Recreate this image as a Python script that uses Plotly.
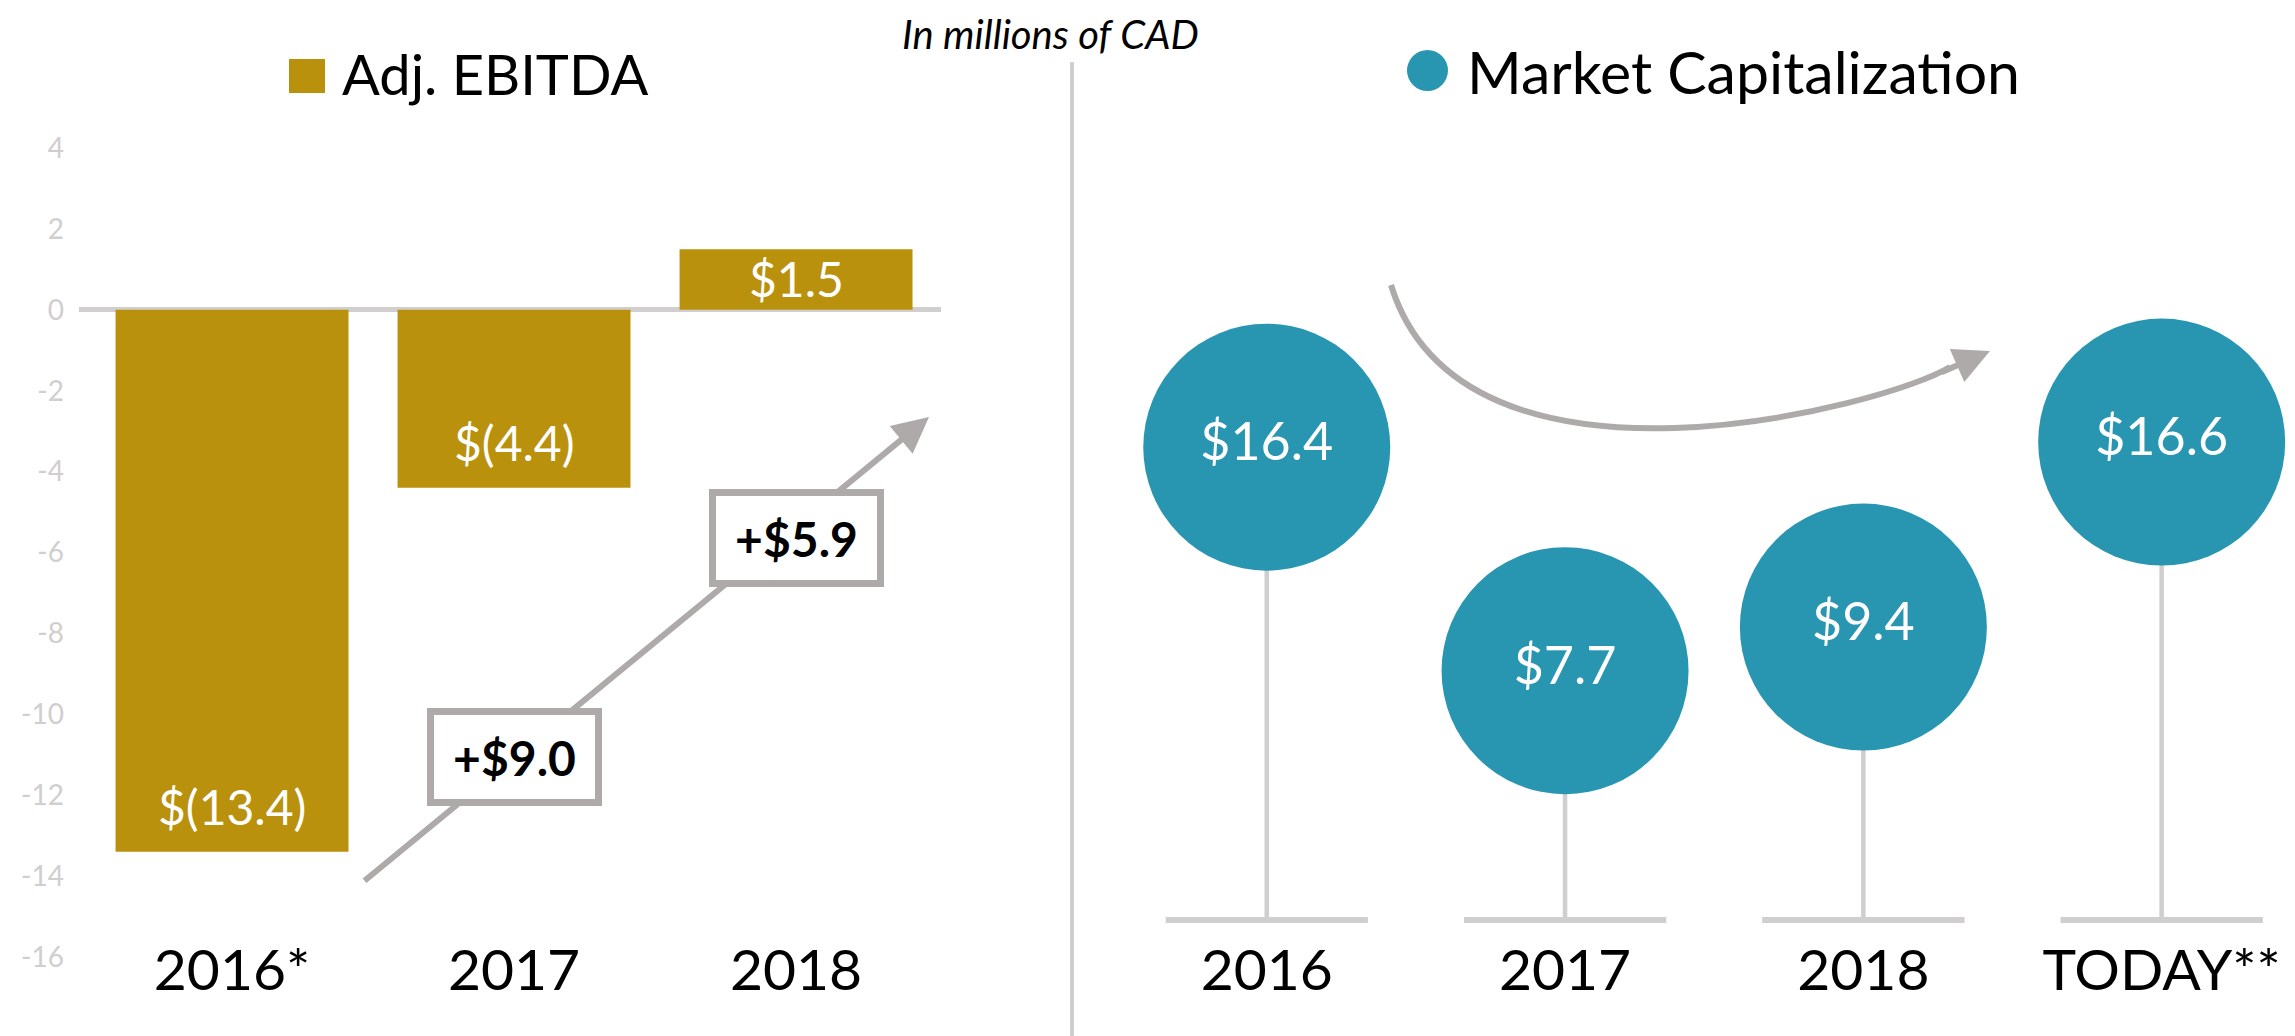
import plotly.graph_objects as go

# ---------------- data ----------------
ebitda_years = ["2016*", "2017", "2018"]
ebitda_values = [-13.4, -4.4, 1.5]
ebitda_labels = ["$(13.4)", "$(4.4)", "$1.5"]

ytick_vals = [4, 2, 0, -2, -4, -6, -8, -10, -12, -14, -16]
ytick_text = ["4", "2", "0", "-2", "-4", "-6", "-8", "-10", "-12", "-14", "-16"]

mcap_years = ["2016", "2017", "2018", "TODAY**"]
mcap_values = [16.4, 7.7, 9.4, 16.6]
mcap_labels = ["$16.4", "$7.7", "$9.4", "$16.6"]

# ---------------- styling helpers ----------------
W, H = 2295, 1036
OFF = 8  # page offset of the plot div inside the browser
GOLD = "#BA910C"
TEAL = "#2896B1"
LIGHT = "#D0CECE"
ARROW = "#AEAAAA"
FONT = "Lato, 'Open Sans', sans-serif"


def px(x):
    return (x - OFF) / W


def py(y):
    return 1 - (y - OFF) / H


fig = go.Figure()

ex = list(range(len(ebitda_years)))
# ---------------- left: Adj. EBITDA bars ----------------
fig.add_trace(go.Bar(
    x=ex, y=ebitda_values,
    marker=dict(color=GOLD, line=dict(width=0)),
    xaxis="x", yaxis="y", hoverinfo="skip",
))

# ---------------- right: market cap lollipops ----------------
BASE = -2
mx = list(range(len(mcap_years)))
# stems + baselines
fig.add_trace(go.Scatter(
    x=mx, y=[BASE] * len(mx), mode="markers",
    marker=dict(size=1, opacity=0),
    error_y=dict(type="data", symmetric=False,
                 array=[v - BASE for v in mcap_values], arrayminus=[0] * len(mx),
                 color=LIGHT, thickness=4.5, width=0),
    error_x=dict(type="data", array=[0.339] * len(mx),
                 color=LIGHT, thickness=6, width=0),
    xaxis="x2", yaxis="y2", hoverinfo="skip",
))
# circles
fig.add_trace(go.Scatter(
    x=mx, y=mcap_values, mode="markers+text",
    marker=dict(size=247, color=TEAL, line=dict(width=0), opacity=1),
    text=mcap_labels, textposition="middle center",
    textfont=dict(family=FONT, size=52, color="white"),
    xaxis="x2", yaxis="y2", hoverinfo="skip",
))

annotations = []

# bar value labels
for i, (v, lab) in enumerate(zip(ebitda_values, ebitda_labels)):
    annotations.append(dict(
        x=ex[i], y=v, xref="x", yref="y", text=lab, showarrow=False,
        yanchor="middle", yshift=(45 if v < 0 else -29),
        font=dict(family=FONT, size=48, color="white"),
    ))

# rising arrow across the bars
annotations.append(dict(
    x=px(929), y=py(417), xref="paper", yref="paper",
    ax=363 - 929, ay=882 - 417, axref="pixel", ayref="pixel",
    text="", showarrow=True, arrowhead=2, arrowsize=1.2, arrowwidth=6,
    arrowcolor=ARROW, standoff=0, startstandoff=0,
))

# change boxes
box_y = [757, 538]
for i in range(1, len(ebitda_values)):
    diff = ebitda_values[i] - ebitda_values[i - 1]
    annotations.append(dict(
        x=ex[i], y=py(box_y[i - 1]), xref="x", yref="paper",
        text=f"<b>+${diff:.1f}</b>", showarrow=False,
        font=dict(family=FONT, size=48, color="black"),
        bgcolor="white", bordercolor=ARROW, borderwidth=7, borderpad=0,
        width=161, height=84, xanchor="center", yanchor="middle",
    ))

# curved arrow head (right panel)
annotations.append(dict(
    x=px(1990), y=py(351), xref="paper", yref="paper",
    ax=1940 - 1990, ay=373 - 351, axref="pixel", ayref="pixel",
    text="", showarrow=True, arrowhead=2, arrowsize=1.2, arrowwidth=6,
    arrowcolor=ARROW, standoff=0, startstandoff=0,
))

# titles / legends
annotations += [
    dict(x=px(1050), y=1, xref="paper", yref="paper",
         text="<i>In millions of CAD</i>", showarrow=False,
         font=dict(family=FONT, size=40, color="black"),
         xanchor="center", yanchor="top"),
    dict(x=px(340), y=py(74), xref="paper", yref="paper",
         text="Adj. EBITDA", showarrow=False,
         font=dict(family=FONT, size=56, color="black"),
         xanchor="left", yanchor="middle"),
    dict(x=px(1465), y=py(72), xref="paper", yref="paper",
         text="Market Capitalization", showarrow=False,
         font=dict(family=FONT, size=59, color="black"),
         xanchor="left", yanchor="middle"),
]

# curved arrow path (decorative cubic bezier, pixel positions -> paper)
c0, c1, c2, c3 = (1391, 285), (1463, 519), (1889, 405), (1950, 367)
path = "M {},{} C {},{} {},{} {},{}".format(
    px(c0[0]), py(c0[1]), px(c1[0]), py(c1[1]),
    px(c2[0]), py(c2[1]), px(c3[0]), py(c3[1]))

shapes = [
    # divider
    dict(type="line", xref="paper", yref="paper",
         x0=px(1072), x1=px(1072), y0=py(1036), y1=py(62),
         line=dict(color=LIGHT, width=4)),
    # legend swatches
    dict(type="rect", xref="paper", yref="paper",
         x0=px(289), x1=px(325), y0=py(93), y1=py(59),
         fillcolor=GOLD, line=dict(width=0)),
    dict(type="circle", xref="paper", yref="paper",
         x0=px(1407), x1=px(1448), y0=py(91), y1=py(50),
         fillcolor=TEAL, line=dict(width=0)),
    # curved arrow
    dict(type="path", xref="paper", yref="paper", path=path,
         line=dict(color=ARROW, width=6)),
]

AXIS_POS = py(932)


# right panel vertical scale: 25.69 px per unit, value 11.167 at y=581.67 px
def v_at(pix):
    return 11.167 - (pix - 581.67) / 25.69


fig.update_layout(
    width=W, height=H, autosize=False,
    margin=dict(l=0, r=0, t=0, b=0, pad=0, autoexpand=False),
    paper_bgcolor="white", plot_bgcolor="rgba(0,0,0,0)",
    showlegend=False, bargap=0.174,
    font=dict(family=FONT),
    xaxis=dict(domain=[px(79), px(941)], range=[-0.5426, 2.514],
               anchor="free", position=AXIS_POS, automargin=False,
               tickvals=ex, ticktext=ebitda_years,
               showgrid=False, zeroline=False, showline=False, ticks="",
               tickfont=dict(family=FONT, size=57, color="black")),
    yaxis=dict(domain=[py(957), py(148)], range=[-16, 4], anchor="x",
               automargin=False,
               tickvals=ytick_vals, ticktext=ytick_text,
               showgrid=False, showline=False, ticks="",
               zeroline=True, zerolinecolor=LIGHT, zerolinewidth=5,
               ticklabelstandoff=14,
               tickfont=dict(family=FONT, size=28, color=LIGHT)),
    xaxis2=dict(domain=[px(1100), px(2295)], range=[-0.559, 3.447],
                anchor="free", position=AXIS_POS, automargin=False,
                tickvals=mx, ticktext=mcap_years,
                showgrid=False, zeroline=False, showline=False, ticks="",
                tickfont=dict(family=FONT, size=57, color="black")),
    yaxis2=dict(domain=[py(1030), py(12)], range=[v_at(1030), v_at(12)],
                anchor="x2", automargin=False,
                visible=False, showgrid=False, zeroline=False),
    annotations=annotations,
    shapes=shapes,
)

fig.write_html("out.html")
